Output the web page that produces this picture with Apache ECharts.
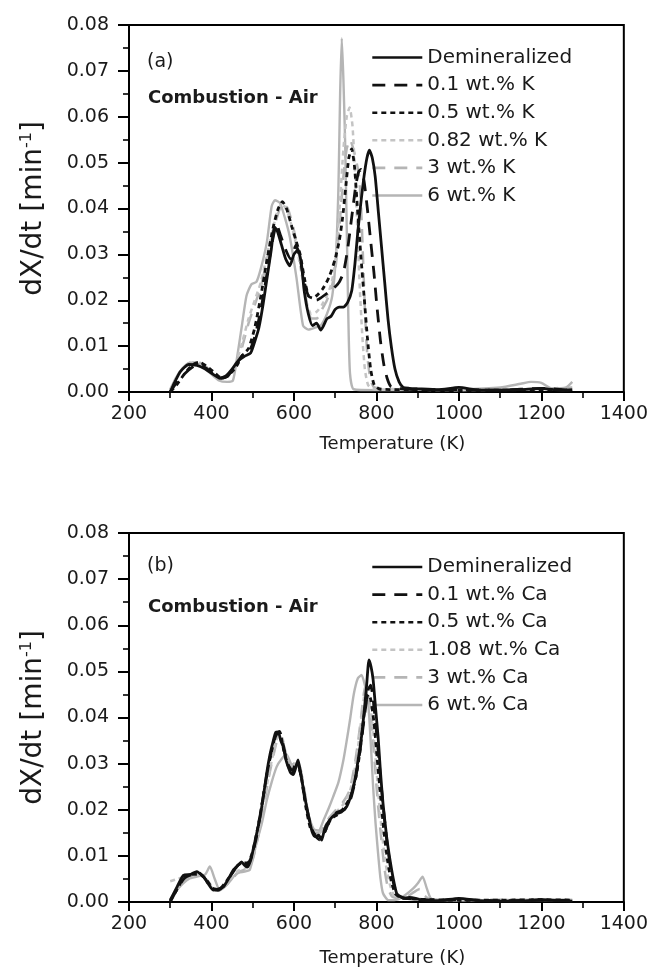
<!DOCTYPE html>
<html>
<head>
<meta charset="utf-8">
<script src="https://cdn.jsdelivr.net/npm/echarts@6/dist/echarts.min.js"></script>
<style>
html,body{margin:0;padding:0;background:#fff;}
#chart{width:651px;height:977px;}
</style>
</head>
<body>
<div id="chart"></div>
<script>
// ---------- data (Temperature K, dX/dt min^-1) ----------
var xTicks = [200, 400, 600, 800, 1000, 1200, 1400];
var yTicks = [0.00, 0.01, 0.02, 0.03, 0.04, 0.05, 0.06, 0.07, 0.08];

var namesK  = ['Demineralized', '0.1 wt.% K', '0.5 wt.% K', '0.82 wt.% K', '3 wt.% K', '6 wt.% K'];
var namesCa = ['Demineralized', '0.1 wt.% Ca', '0.5 wt.% Ca', '1.08 wt.% Ca', '3 wt.% Ca', '6 wt.% Ca'];

// Panel (a) - potassium
var demK = [[300,0],[310,0.002],[325,0.0045],[345,0.006],[365,0.0058],[385,0.005],[405,0.0038],[420,0.003],[435,0.0035],[450,0.005],[465,0.0068],[480,0.0078],[495,0.0085],[505,0.011],[515,0.014],[525,0.019],[535,0.025],[545,0.031],[553,0.036],[560,0.035],[570,0.032],[580,0.029],[590,0.0275],[600,0.030],[610,0.031],[618,0.028],[625,0.022],[635,0.017],[645,0.0145],[655,0.015],[665,0.0135],[672,0.0145],[680,0.016],[690,0.0165],[700,0.018],[710,0.0185],[720,0.0185],[730,0.0195],[740,0.022],[748,0.028],[755,0.035],[762,0.041],[770,0.047],[777,0.051],[783,0.0527],[790,0.051],[797,0.047],[805,0.039],[812,0.032],[820,0.024],[828,0.016],[836,0.010],[845,0.005],[855,0.0022],[865,0.001],[880,0.0008],[900,0.0007],[950,0.0005],[1000,0.001],[1050,0.0004],[1100,0.0004],[1150,0.0005],[1200,0.0008],[1250,0.0003],[1275,0.0005]];
var k01 = [[300,0],[315,0.002],[335,0.004],[355,0.0055],[370,0.006],[390,0.005],[410,0.0035],[425,0.003],[440,0.0035],[460,0.006],[475,0.008],[490,0.0085],[505,0.012],[520,0.018],[535,0.026],[548,0.033],[558,0.0365],[568,0.034],[580,0.031],[592,0.029],[605,0.032],[615,0.029],[625,0.024],[635,0.021],[645,0.0205],[655,0.02],[665,0.0205],[680,0.0215],[695,0.0225],[710,0.024],[720,0.026],[730,0.031],[740,0.038],[750,0.045],[757,0.048],[763,0.0485],[770,0.046],[778,0.040],[786,0.033],[794,0.026],[802,0.018],[810,0.011],[818,0.006],[826,0.003],[835,0.0012],[850,0.0008],[900,0.0005],[1000,0.0005],[1100,0.0004],[1200,0.0008],[1275,0.0004]];
var k05 = [[300,0],[315,0.0015],[335,0.004],[355,0.006],[370,0.0065],[390,0.0055],[410,0.004],[425,0.003],[440,0.0035],[460,0.0055],[475,0.008],[490,0.0095],[505,0.014],[520,0.021],[535,0.029],[550,0.036],[562,0.040],[572,0.0415],[582,0.040],[595,0.036],[605,0.033],[615,0.030],[625,0.025],[635,0.021],[645,0.0205],[655,0.021],[670,0.0225],[685,0.025],[700,0.029],[710,0.033],[718,0.038],[726,0.045],[733,0.051],[740,0.053],[747,0.049],[754,0.040],[762,0.030],[770,0.021],[778,0.012],[786,0.005],[795,0.0015],[810,0.0006],[900,0.0005],[1000,0.0004],[1100,0.0004],[1200,0.0005],[1275,0.0004]];
var k082 = [[300,0.0005],[320,0.004],[340,0.0058],[360,0.0065],[380,0.0058],[400,0.0043],[420,0.003],[440,0.0035],[460,0.0065],[475,0.011],[490,0.016],[505,0.020],[520,0.024],[535,0.030],[550,0.036],[562,0.040],[572,0.041],[585,0.039],[598,0.035],[610,0.030],[622,0.024],[632,0.019],[642,0.017],[655,0.0175],[668,0.019],[680,0.021],[692,0.024],[702,0.03],[712,0.042],[720,0.053],[728,0.06],[735,0.062],[742,0.058],[748,0.048],[754,0.035],[760,0.022],[766,0.012],[772,0.005],[780,0.0015],[795,0.0006],[900,0.0005],[1000,0.0004],[1100,0.0005],[1200,0.0006],[1275,0.0005]];
var k3 = [[300,0.0005],[320,0.004],[340,0.006],[360,0.0068],[380,0.006],[400,0.0045],[420,0.0032],[440,0.0035],[460,0.006],[475,0.010],[490,0.015],[505,0.019],[520,0.023],[535,0.029],[550,0.035],[562,0.039],[572,0.041],[585,0.040],[598,0.036],[610,0.031],[622,0.025],[632,0.019],[642,0.016],[655,0.016],[668,0.018],[680,0.020],[692,0.023],[702,0.028],[712,0.038],[720,0.047],[728,0.053],[736,0.055],[744,0.053],[752,0.05],[758,0.047],[763,0.040],[768,0.028],[773,0.016],[778,0.008],[785,0.003],[795,0.001],[850,0.0006],[1000,0.0005],[1100,0.0005],[1200,0.0007],[1275,0.001]];
var k6 = [[300,0.0005],[320,0.004],[340,0.006],[358,0.0065],[378,0.0055],[398,0.004],[418,0.0025],[438,0.0022],[452,0.0025],[462,0.0075],[473,0.014],[485,0.021],[497,0.0235],[509,0.024],[520,0.027],[534,0.0325],[546,0.0405],[554,0.0418],[566,0.0412],[578,0.038],[590,0.0338],[606,0.025],[622,0.0145],[635,0.0136],[650,0.014],[665,0.0145],[680,0.017],[693,0.021],[702,0.03],[708,0.045],[712,0.065],[716,0.0771],[720,0.068],[724,0.055],[728,0.036],[732,0.016],[736,0.004],[745,0.0006],[800,0.0004],[900,0.0005],[1000,0.0006],[1100,0.001],[1150,0.0018],[1175,0.0022],[1200,0.002],[1225,0.0008],[1260,0.001],[1275,0.0022]];

// Panel (b) - calcium
var demCa = [[300,0.0004],[315,0.003],[332,0.0058],[350,0.006],[364,0.0066],[380,0.0055],[392,0.004],[404,0.0026],[416,0.0028],[429,0.0033],[441,0.005],[453,0.0069],[465,0.008],[473,0.0087],[480,0.008],[487,0.0076],[495,0.009],[501,0.0113],[510,0.015],[518,0.0185],[526,0.023],[534,0.028],[542,0.032],[550,0.035],[556,0.0368],[562,0.0369],[568,0.035],[574,0.0337],[580,0.031],[586,0.0293],[592,0.028],[598,0.0276],[604,0.029],[610,0.0308],[616,0.028],[622,0.025],[630,0.021],[639,0.0171],[645,0.015],[651,0.0142],[660,0.0145],[667,0.0134],[675,0.016],[687,0.0178],[700,0.019],[715,0.0195],[728,0.0207],[738,0.023],[748,0.0265],[756,0.031],[764,0.0359],[770,0.041],[776,0.0467],[782,0.0525],[787,0.051],[792,0.0482],[798,0.042],[804,0.0359],[810,0.028],[816,0.0214],[825,0.014],[833,0.0091],[841,0.005],[849,0.0019],[857,0.0012],[865,0.0008],[880,0.001],[895,0.0008],[910,0.0004],[950,0.0003],[1000,0.0008],[1050,0.0003],[1100,0.0002],[1150,0.0002],[1200,0.0005],[1250,0.0003],[1275,0.0002]];
var ca01 = [[300,0],[318,0.003],[335,0.0052],[355,0.006],[370,0.0063],[385,0.005],[400,0.003],[415,0.0025],[430,0.0035],[445,0.0055],[460,0.0075],[472,0.0085],[485,0.008],[498,0.010],[510,0.0145],[522,0.021],[534,0.0275],[546,0.033],[556,0.036],[565,0.037],[574,0.034],[585,0.030],[596,0.0285],[607,0.0305],[616,0.028],[627,0.022],[638,0.0175],[650,0.0145],[662,0.0135],[674,0.015],[688,0.018],[705,0.0195],[722,0.020],[738,0.0225],[750,0.027],[762,0.034],[772,0.041],[780,0.046],[786,0.047],[792,0.044],[800,0.037],[808,0.029],[816,0.021],[825,0.0135],[834,0.0075],[843,0.0035],[852,0.0015],[870,0.0008],[900,0.0006],[950,0.0004],[1000,0.0005],[1100,0.0003],[1200,0.0004],[1275,0.0003]];
var ca05 = [[300,0.0002],[318,0.003],[335,0.0055],[355,0.006],[372,0.006],[388,0.0048],[402,0.003],[418,0.0027],[432,0.004],[448,0.006],[462,0.0078],[475,0.0085],[488,0.0085],[500,0.011],[512,0.016],[524,0.022],[536,0.0285],[548,0.0335],[558,0.0365],[566,0.0365],[575,0.033],[586,0.0295],[597,0.028],[608,0.030],[618,0.027],[628,0.021],[640,0.016],[652,0.0145],[664,0.0138],[676,0.0155],[690,0.018],[706,0.019],[722,0.0205],[738,0.023],[750,0.027],[760,0.0325],[768,0.039],[775,0.0435],[780,0.045],[786,0.044],[794,0.039],[802,0.031],[810,0.023],[818,0.0155],[827,0.009],[836,0.0045],[846,0.0018],[860,0.0009],[900,0.0006],[1000,0.0004],[1100,0.0004],[1200,0.0005],[1275,0.0004]];
var ca108 = [[300,0.0045],[318,0.005],[335,0.0055],[355,0.006],[372,0.006],[388,0.0048],[402,0.003],[418,0.0026],[435,0.0038],[450,0.0055],[465,0.0068],[480,0.0072],[492,0.0078],[504,0.011],[516,0.016],[528,0.022],[540,0.028],[552,0.033],[562,0.036],[572,0.0355],[582,0.0315],[594,0.029],[604,0.030],[614,0.0295],[624,0.025],[635,0.019],[648,0.015],[660,0.0148],[672,0.016],[686,0.018],[702,0.0195],[718,0.021],[734,0.0235],[746,0.028],[756,0.034],[764,0.040],[770,0.0445],[776,0.046],[782,0.044],[790,0.039],[798,0.031],[806,0.022],[814,0.0145],[823,0.008],[832,0.004],[842,0.0015],[860,0.0009],[900,0.0007],[1000,0.0004],[1100,0.0004],[1200,0.0005],[1275,0.0005]];
var ca3 = [[300,0.0004],[318,0.003],[336,0.005],[356,0.0058],[374,0.0057],[390,0.0047],[404,0.003],[418,0.0025],[434,0.0035],[450,0.005],[466,0.0065],[480,0.007],[492,0.0075],[504,0.0105],[516,0.0155],[528,0.0215],[540,0.0275],[552,0.0325],[562,0.0355],[572,0.035],[582,0.0315],[594,0.0292],[605,0.0305],[614,0.0295],[624,0.025],[635,0.019],[648,0.0152],[660,0.015],[672,0.0162],[686,0.0183],[702,0.02],[718,0.0215],[734,0.024],[746,0.029],[756,0.035],[764,0.041],[770,0.0455],[775,0.047],[781,0.045],[788,0.039],[796,0.030],[804,0.021],[812,0.0135],[820,0.007],[828,0.003],[838,0.0012],[855,0.0008],[875,0.0012],[892,0.0022],[905,0.0028],[915,0.0015],[930,0.0006],[1000,0.0004],[1100,0.0005],[1200,0.0005],[1275,0.0005]];
var ca6 = [[300,0.0005],[320,0.003],[345,0.005],[365,0.0055],[385,0.006],[396,0.0077],[408,0.005],[420,0.0026],[440,0.004],[461,0.0062],[480,0.0066],[493,0.007],[509,0.0127],[522,0.017],[534,0.022],[546,0.026],[558,0.0293],[570,0.031],[582,0.032],[595,0.0298],[605,0.030],[612,0.0295],[622,0.025],[635,0.019],[648,0.0158],[660,0.0155],[673,0.018],[685,0.0205],[695,0.0228],[708,0.026],[720,0.0308],[728,0.035],[736,0.0395],[745,0.045],[755,0.0485],[764,0.0492],[772,0.047],[780,0.0431],[786,0.035],[792,0.025],[798,0.017],[804,0.0106],[810,0.005],[816,0.0019],[829,0.0004],[850,0.0005],[870,0.0015],[890,0.003],[900,0.004],[912,0.0055],[922,0.003],[932,0.0008],[950,0.0004],[1000,0.0004],[1100,0.0004],[1200,0.0004],[1275,0.0004]];

// ---------- styling ----------
var FONT = 'DejaVu Sans';
var TXT = '#1a1a1a';
var BLACK = '#111111';
var GRAY = '#b5b5b5';
var styles = [
  {color: BLACK, width: 2.8, type: 'solid'},
  {color: BLACK, width: 2.8, type: [13, 9]},
  {color: BLACK, width: 2.8, type: [5, 4]},
  {color: '#c4c4c4', width: 2.5, type: [5, 4]},
  {color: GRAY, width: 2.5, type: [13, 9]},
  {color: GRAY, width: 2.4, type: 'solid'}
];

var grids = [
  {left: 129, right: 27, top: 25, height: 367, show: true, borderColor: '#000', borderWidth: 2, backgroundColor: 'transparent'},
  {left: 129, right: 27, top: 533, height: 369, show: true, borderColor: '#000', borderWidth: 2, backgroundColor: 'transparent'}
];

function xAxisFor(i) {
  return {
    type: 'value', gridIndex: i, min: xTicks[0], max: xTicks[xTicks.length - 1], interval: 200,
    name: 'Temperature (K)', nameLocation: 'middle', nameGap: i === 0 ? 43 : 47,
    nameTextStyle: {fontFamily: FONT, fontSize: 18, color: TXT, padding: [0, 0, 0, 32]},
    axisLine: {show: true, lineStyle: {color: '#000', width: 2}},
    axisTick: {show: true, inside: false, length: 9, lineStyle: {color: '#000', width: 2}},
    minorTick: {show: true, splitNumber: 2, length: 6, lineStyle: {color: '#000', width: 1.6}},
    axisLabel: {fontFamily: FONT, fontSize: 19, color: TXT, margin: 13,
      formatter: function (v) { return String(v); }},
    splitLine: {show: false}
  };
}
function yAxisFor(i) {
  return {
    type: 'value', gridIndex: i, min: yTicks[0], max: yTicks[yTicks.length - 1], interval: 0.01,
    name: '{a|dX/dt [min}{s|-1}{a|]}', nameLocation: 'middle', nameGap: 80,
    nameTextStyle: {
      fontFamily: FONT, fontSize: 28, color: TXT,
      rich: {
        a: {fontFamily: FONT, fontSize: 28, color: TXT},
        s: {fontFamily: FONT, fontSize: 16, color: TXT, padding: [0, 0, 14, 0]}
      }
    },
    axisLine: {show: true, lineStyle: {color: '#000', width: 2}},
    axisTick: {show: true, inside: false, length: 11, lineStyle: {color: '#000', width: 2}},
    minorTick: {show: true, splitNumber: 2, length: 6, lineStyle: {color: '#000', width: 1.6}},
    axisLabel: {fontFamily: FONT, fontSize: 19, color: TXT, margin: 20,
      formatter: function (v) { return v.toFixed(2); }},
    splitLine: {show: false}
  };
}

var panelData = [[demK, k01, k05, k082, k3, k6], [demCa, ca01, ca05, ca108, ca3, ca6]];
var panelNames = [namesK, namesCa];

var series = [];
for (var p = 0; p < 2; p++) {
  var order = [5, 4, 3, 2, 1, 0];
  for (var j = 0; j < order.length; j++) {
    var k = order[j];
    var st = styles[k];
    series.push({
      type: 'line', name: panelNames[p][k], xAxisIndex: p, yAxisIndex: p,
      data: panelData[p][k], showSymbol: false, symbol: 'none', smooth: 0.2,
      lineStyle: {color: st.color, width: st.width, type: st.type},
      itemStyle: {color: st.color},
      emphasis: {disabled: true}, z: 2 + (5 - k)
    });
  }
}

function legendFor(i, top) {
  return {
    orient: 'vertical', left: 371, top: top, padding: 0,
    itemWidth: 50, itemHeight: 14, itemGap: 7.6,
    data: panelNames[i],
    itemStyle: {opacity: 0},
    lineStyle: {opacity: 1, width: 2.6},
    textStyle: {fontFamily: FONT, fontSize: 20, color: TXT, lineHeight: 20},
    selectedMode: false
  };
}

var option = {
  animation: false,
  backgroundColor: '#fff',
  grid: grids,
  xAxis: [xAxisFor(0), xAxisFor(1)],
  yAxis: [yAxisFor(0), yAxisFor(1)],
  legend: [legendFor(0, 47.5), legendFor(1, 557)],
  graphic: [
    {type: 'text', left: 147, top: 53, style: {text: '(a)', font: '19px "DejaVu Sans"', fill: TXT}},
    {type: 'text', left: 148, top: 89, style: {text: 'Combustion - Air', font: 'bold 18px "DejaVu Sans"', fill: TXT}},
    {type: 'text', left: 147, top: 557, style: {text: '(b)', font: '19px "DejaVu Sans"', fill: TXT}},
    {type: 'text', left: 148, top: 598, style: {text: 'Combustion - Air', font: 'bold 18px "DejaVu Sans"', fill: TXT}}
  ],
  series: series
};

var chart = echarts.init(document.getElementById('chart'), null, {renderer: 'canvas'});
chart.setOption(option);
</script>
</body>
</html>
